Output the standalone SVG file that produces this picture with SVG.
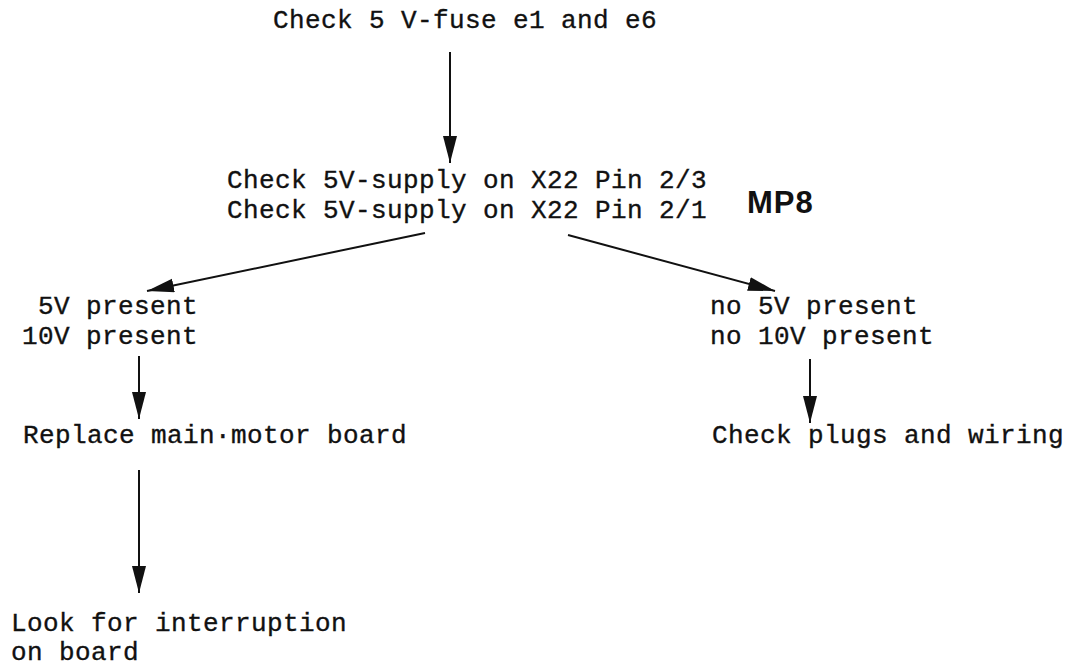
<svg xmlns="http://www.w3.org/2000/svg" width="1072" height="669" viewBox="0 0 1072 669">
  <style>
    .t { font-family: "Liberation Mono", "Courier New", monospace; font-size: 26px; letter-spacing: 0.4px; fill: #111; stroke: #111; stroke-width: 0.35; }
    .hand { font-family: "Liberation Sans", Arial, sans-serif; font-size: 31px; font-weight: bold; fill: #111; letter-spacing: 1px; }
    .link { stroke: #111; stroke-width: 2; fill: none; marker-end: url(#head); }
  </style>
  <defs>
    <marker id="head" markerUnits="userSpaceOnUse" markerWidth="30" markerHeight="16" refX="27" refY="7" orient="auto">
      <path d="M0,0 L27,7 L0,14 Z" fill="#111"/>
    </marker>
  </defs>
  <rect width="1072" height="669" fill="#fff"/>

  <!-- flow arrows -->
  <g id="connectors">
    <line class="link" x1="450" y1="52" x2="450" y2="163"/>
    <line class="link" x1="425" y1="233" x2="147" y2="291"/>
    <line class="link" x1="568" y1="235" x2="775" y2="291"/>
    <line class="link" x1="139" y1="356" x2="139" y2="419"/>
    <line class="link" x1="810" y1="359" x2="810" y2="423"/>
    <line class="link" x1="139" y1="470" x2="139" y2="593"/>
  </g>

  <g id="check-fuse">
    <text class="t" x="273" y="28">Check 5 V-fuse e1 and e6</text>
  </g>
  <g id="check-supply">
    <text class="t" x="227" y="188">Check 5V-supply on X22 Pin 2/3</text>
    <text class="t" x="227" y="218">Check 5V-supply on X22 Pin 2/1</text>
  </g>
  <g id="mp8">
    <text class="hand" x="747" y="213">MP8</text>
  </g>
  <g id="present">
    <text class="t" x="38" y="314">5V present</text>
    <text class="t" x="22" y="344">10V present</text>
  </g>
  <g id="not-present">
    <text class="t" x="710" y="314">no 5V present</text>
    <text class="t" x="710" y="344">no 10V present</text>
  </g>
  <g id="replace-board">
    <text class="t" x="23" y="443">Replace main·motor board</text>
  </g>
  <g id="check-plugs">
    <text class="t" x="712" y="443">Check plugs and wiring</text>
  </g>
  <g id="look-interruption">
    <text class="t" x="11" y="631">Look for interruption</text>
    <text class="t" x="11" y="660">on board</text>
  </g>
</svg>
